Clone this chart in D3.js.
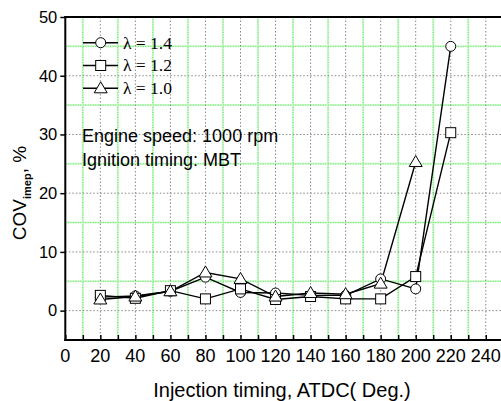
<!DOCTYPE html>
<html>
<head>
<meta charset="utf-8">
<script src="https://cdn.jsdelivr.net/npm/d3@7"></script>
<style>
  body { margin: 0; background: #fff; }
  svg { display: block; }
</style>
</head>
<body>
<div id="chart"></div>
<script>
// Injection timing (deg ATDC)
const timing = [20, 40, 60, 80, 100, 120, 140, 160, 180, 200, 220];
const timingL10 = [20, 40, 60, 80, 100, 120, 140, 160, 180, 200];

// COV of IMEP, %
const covL14 = [2.3, 2.5, 3.3, 5.7, 3.1, 3.0, 2.6, 2.6, 5.4, 3.7, 45.0];
const covL12 = [2.6, 2.1, 3.4, 2.0, 3.7, 1.9, 2.4, 2.0, 2.0, 5.8, 30.3];
const covL10 = [1.9, 2.4, 3.3, 6.5, 5.4, 2.4, 3.0, 2.8, 4.6, 25.3];

const seriesNames = ["\u03bb = 1.4", "\u03bb = 1.2", "\u03bb = 1.0"];
const xTicks = [0, 20, 40, 60, 80, 100, 120, 140, 160, 180, 200, 220, 240];
const yTicks = [0, 10, 20, 30, 40, 50];

const width = 501, height = 401;
const plotLeft = 65.3, plotRight = 503.3, plotTop = 17, plotBottom = 340;

const x = d3.scaleLinear().domain([0, 250]).range([plotLeft, plotRight]);
const y = d3.scaleLinear().domain([-5, 50]).range([plotBottom, plotTop]);

const svg = d3.select('#chart').append('svg')
  .attr('width', width)
  .attr('height', height)
  .style('font-family', 'Arial, "Liberation Sans", sans-serif');

const grid = svg.append('g');

// minor grid (green)
const minorX = d3.range(10, 251, 20);
const minorY = d3.range(5, 50, 10);
grid.selectAll('.mx').data(minorX).enter().append('line')
  .attr('x1', d => x(d)).attr('x2', d => x(d))
  .attr('y1', plotTop).attr('y2', plotBottom)
  .style('stroke', '#d2f8d2').style('stroke-width', 2);
grid.selectAll('.mx2').data(minorX).enter().append('line')
  .attr('x1', d => x(d)).attr('x2', d => x(d))
  .attr('y1', plotTop).attr('y2', plotBottom)
  .style('stroke', '#55e655').style('stroke-width', 1)
  .style('stroke-dasharray', '1,1.5');
grid.selectAll('.my').data(minorY).enter().append('line')
  .attr('x1', plotLeft).attr('x2', width)
  .attr('y1', d => y(d)).attr('y2', d => y(d))
  .style('stroke', '#d2f8d2').style('stroke-width', 2);
grid.selectAll('.my2').data(minorY).enter().append('line')
  .attr('x1', plotLeft).attr('x2', width)
  .attr('y1', d => y(d)).attr('y2', d => y(d))
  .style('stroke', '#55e655').style('stroke-width', 1)
  .style('stroke-dasharray', '1,1.5');

// major grid (gray dotted)
grid.selectAll('.gx').data(xTicks.filter(d => d > 0)).enter().append('line')
  .attr('x1', d => x(d)).attr('x2', d => x(d))
  .attr('y1', plotTop).attr('y2', plotBottom)
  .style('stroke', '#888').style('stroke-width', 1)
  .style('stroke-dasharray', '1.5,2');
grid.selectAll('.gy').data(yTicks.filter(d => d < 50)).enter().append('line')
  .attr('x1', plotLeft).attr('x2', width)
  .attr('y1', d => y(d)).attr('y2', d => y(d))
  .style('stroke', '#888').style('stroke-width', 1)
  .style('stroke-dasharray', '1.5,2');

// axes
const xAxis = svg.append('g')
  .attr('transform', `translate(0,${plotBottom})`)
  .call(d3.axisBottom(x).tickValues(d3.range(0, 251, 10)).tickSize(-5).tickFormat(''));
xAxis.select('.domain').remove();
xAxis.selectAll('.tick line').style('stroke', '#000').style('stroke-width', 1.5);

svg.append('g').selectAll('text').data(xTicks).enter().append('text')
  .attr('x', d => x(d)).attr('y', 362)
  .attr('text-anchor', 'middle')
  .style('font-size', '18px')
  .text(d => d);

const yAxis = svg.append('g')
  .attr('transform', `translate(${plotLeft},0)`)
  .call(d3.axisLeft(y).tickValues(yTicks).tickSize(5).tickPadding(3));
yAxis.select('.domain').remove();
yAxis.selectAll('.tick line').style('stroke', '#000').style('stroke-width', 1.5);
yAxis.selectAll('.tick text')
  .style('font-size', '16.5px')
  .style('font-family', 'Arial, "Liberation Sans", sans-serif')
  .attr('fill', '#000');

// frame
svg.append('line').attr('x1', plotLeft).attr('x2', plotLeft).attr('y1', plotTop - 1).attr('y2', plotBottom + 1)
  .style('stroke', '#000').style('stroke-width', 2);
svg.append('line').attr('x1', plotLeft - 1).attr('x2', width).attr('y1', plotBottom).attr('y2', plotBottom)
  .style('stroke', '#000').style('stroke-width', 2);
svg.append('line').attr('x1', plotLeft - 1).attr('x2', width).attr('y1', plotTop).attr('y2', plotTop)
  .style('stroke', '#000').style('stroke-width', 2);

// symbols
function drawSymbol(g, type, cx, cy) {
  if (type === 'circle') {
    g.append('circle').attr('cx', cx).attr('cy', cy).attr('r', 5)
      .style('fill', '#fff').style('stroke', '#000').style('stroke-width', 1);
  } else if (type === 'square') {
    g.append('rect').attr('x', cx - 5).attr('y', cy - 5).attr('width', 10).attr('height', 10)
      .style('fill', '#fff').style('stroke', '#000').style('stroke-width', 1);
  } else {
    g.append('path')
      .attr('d', `M${cx},${cy - 6.5}L${cx + 6.5},${cy + 4.5}L${cx - 6.5},${cy + 4.5}Z`)
      .style('fill', '#fff').style('stroke', '#000').style('stroke-width', 1);
  }
}

const series = [
  { name: seriesNames[0], xs: timing, ys: covL14, sym: 'circle' },
  { name: seriesNames[1], xs: timing, ys: covL12, sym: 'square' },
  { name: seriesNames[2], xs: timingL10, ys: covL10, sym: 'triangle' }
];

const line = d3.line().x(d => x(d[0])).y(d => y(d[1]));
const plot = svg.append('g');

series.forEach(s => {
  const pts = s.xs.map((v, i) => [v, s.ys[i]]);
  plot.append('path').datum(pts).attr('d', line)
    .style('fill', 'none').style('stroke', '#000').style('stroke-width', 1.4);
});
series.forEach(s => {
  s.xs.forEach((v, i) => drawSymbol(plot, s.sym, x(v), y(s.ys[i])));
});

// legend
const legend = svg.append('g');
series.forEach((s, i) => {
  const ly = 42.7 + i * 22.8;
  legend.append('line').attr('x1', 83).attr('x2', 118).attr('y1', ly).attr('y2', ly)
    .style('stroke', '#000').style('stroke-width', 1.4);
  drawSymbol(legend, s.sym, 100.7, ly);
  legend.append('text').attr('x', 123).attr('y', ly + 5.8)
    .style('font-family', '"Liberation Serif", "Times New Roman", serif')
    .style('font-size', '17.5px')
    .text(s.name);
});

// annotations
svg.append('text').attr('x', 82).attr('y', 141.5)
  .style('font-size', '18px').text('Engine speed: 1000 rpm');
svg.append('text').attr('x', 82).attr('y', 165.5)
  .style('font-size', '18px').text('Ignition timing: MBT');

// axis titles
const yLabel = svg.append('text')
  .attr('transform', 'translate(26,193) rotate(-90)')
  .attr('text-anchor', 'middle')
  .style('font-size', '19px');
yLabel.append('tspan').text('COV');
yLabel.append('tspan').attr('dy', 5).style('font-size', '11px').style('font-weight', 'bold').text('imep');
yLabel.append('tspan').attr('dy', -5).text(', %');

svg.append('text')
  .attr('x', 282).attr('y', 396.5)
  .attr('text-anchor', 'middle')
  .style('font-size', '20px')
  .text('Injection timing, ATDC( Deg.)');
</script>
</body>
</html>
